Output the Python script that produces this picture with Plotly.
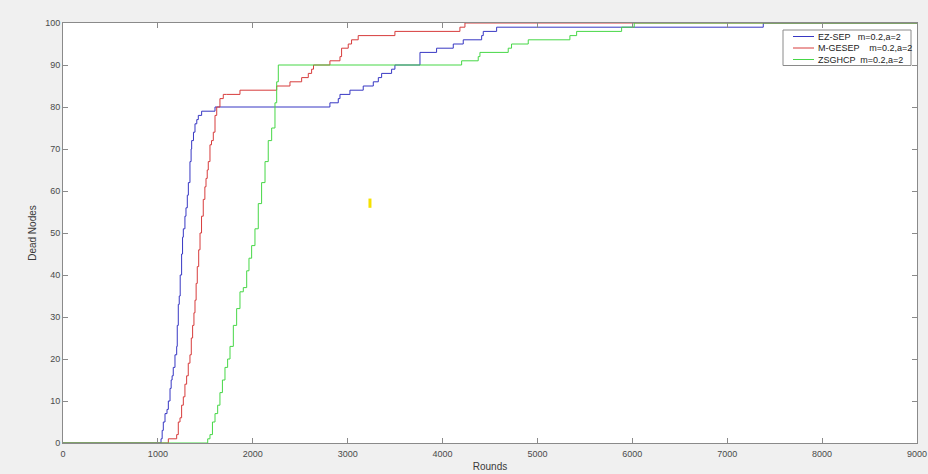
import plotly.graph_objects as go

# ---- data ----
ez_rounds = [0, 1033, 1045, 1057, 1075, 1096, 1110, 1128, 1140, 1150, 1162, 1180, 1198, 1204, 1215,
             1225, 1235, 1250, 1260, 1268, 1285, 1296, 1310, 1321, 1338, 1350, 1356, 1375, 1391,
             1410, 1426, 1461, 1602, 2813, 2901, 2919, 3024, 3164, 3270, 3323, 3358, 3463, 3498,
             3762, 3937, 4113, 4218, 4412, 4429, 4570, 7380, 9000]
ez_dead = [0, 1, 3, 5, 7, 8, 10, 13, 15, 16, 18, 21, 23, 28, 33,
           35, 40, 45, 49, 51, 54, 56, 59, 62, 67, 70, 72, 74, 76,
           77, 78, 79, 80, 81, 82, 83, 84, 85, 86, 87, 88, 89, 90,
           93, 94, 95, 96, 97, 98, 99, 100, 100]

mg_rounds = [0, 1110, 1198, 1215, 1233, 1250, 1268, 1285, 1303, 1320, 1338, 1352, 1366, 1380, 1391,
             1403, 1415, 1430, 1444, 1460, 1478, 1495, 1507, 1520, 1531, 1549, 1565, 1584, 1602,
             1620, 1654, 1689, 1725, 1865, 2252, 2392, 2515, 2585, 2620, 2640, 2813, 2919, 2936,
             3006, 3041, 3111, 3498, 4183, 4236, 9000]
mg_dead = [0, 1, 2, 5, 6, 9, 11, 14, 16, 19, 21, 25, 28, 31, 34,
           38, 42, 46, 50, 54, 58, 61, 63, 65, 67, 71, 72, 74, 78,
           80, 82, 83, 83, 84, 85, 86, 87, 88, 89, 90, 91, 92, 94,
           95, 96, 97, 98, 99, 100, 100]

zs_rounds = [0, 1525, 1549, 1575, 1602, 1630, 1654, 1680, 1707, 1735, 1760, 1795, 1830, 1865, 1900,
             1936, 1960, 1988, 2023, 2058, 2093, 2129, 2163, 2199, 2234, 2252, 2269, 4201, 4376,
             4394, 4692, 4727, 4903, 5342, 5413, 5887, 6020, 9000]
zs_dead = [0, 1, 2, 5, 7, 9, 12, 15, 18, 20, 23, 28, 32, 36, 37,
           41, 44, 47, 51, 57, 62, 67, 72, 75, 81, 86, 90, 91, 92,
           93, 94, 95, 96, 97, 98, 99, 100, 100]

series_names = ["EZ-SEP   m=0.2,a=2", "M-GESEP    m=0.2,a=2", "ZSGHCP  m=0.2,a=2"]
series_colors = ["rgb(55,55,195)", "rgb(215,60,60)", "rgb(70,215,70)"]

mark_x = [3235, 3235]
mark_y = [56, 58.2]

x_ticks = [0, 1000, 2000, 3000, 4000, 5000, 6000, 7000, 8000, 9000]
y_ticks = [0, 10, 20, 30, 40, 50, 60, 70, 80, 90, 100]

fig = go.Figure()
for xs, ys, name, col in zip([ez_rounds, mg_rounds, zs_rounds], [ez_dead, mg_dead, zs_dead],
                             series_names, series_colors):
    fig.add_trace(go.Scatter(x=xs, y=ys, mode="lines", name=name, showlegend=False,
                             line=dict(color=col, width=1, shape="hv")))

fig.add_trace(go.Scatter(x=mark_x, y=mark_y, mode="lines", showlegend=False, hoverinfo="skip",
                         line=dict(color="rgb(245,225,0)", width=3)))

# MATLAB-style compact legend box (paper coordinates)
W, H = 928, 474
ml, mr, mt, mb = 63, 11, 23, 31
pw, ph = W - ml - mr, H - mt - mb


def px2paper(x, y):
    return (x - ml) / pw, 1 - (y - mt) / ph


x0, y0 = px2paper(783, 30)
x1, y1 = px2paper(911, 65.5)
fig.add_shape(type="rect", xref="paper", yref="paper", x0=x0, y0=y1, x1=x1, y1=y0,
              line=dict(color="#8a8a8a", width=1), fillcolor="white", layer="above")
row_y = [36.5, 48, 59.5]
for name, col, ry in zip(series_names, series_colors, row_y):
    lx0, ly = px2paper(793, ry)
    lx1, _ = px2paper(814, ry)
    fig.add_shape(type="line", xref="paper", yref="paper", x0=lx0, x1=lx1, y0=ly, y1=ly,
                  line=dict(color=col, width=1), layer="above")
    tx, _ = px2paper(816, ry)
    fig.add_annotation(xref="paper", yref="paper", x=tx, y=ly, xanchor="left", yanchor="middle",
                       text=name, showarrow=False,
                       font=dict(family="Liberation Sans", size=9, color="#222"))

axis_common = dict(showgrid=False, zeroline=False, showline=True, linecolor="#8a8a8a", linewidth=1,
                   mirror="ticks", ticks="inside", ticklen=5, tickcolor="#8a8a8a", automargin=False,
                   tickfont=dict(family="Liberation Sans", size=9, color="#4a4a4a"))

fig.update_layout(
    width=W, height=H,
    paper_bgcolor="#f0f0f0", plot_bgcolor="white",
    margin=dict(l=ml, r=mr, t=mt, b=mb),
    font=dict(family="Liberation Sans", color="#4a4a4a"),
    xaxis=dict(range=[0, 9000], tickvals=x_ticks, ticklabelstandoff=2,
               title=dict(text="Rounds", font=dict(size=10, color="#3a3a3a"), standoff=5),
               **axis_common),
    yaxis=dict(range=[0, 100], tickvals=y_ticks,
               title=dict(text="Dead Nodes", font=dict(size=10, color="#3a3a3a"), standoff=6),
               **axis_common),
    showlegend=False,
)

fig.write_html("out.html", config={"displayModeBar": False},
               post_script="document.body.style.margin='0';"
                           "document.body.style.background='#f0f0f0';"
                           "document.body.style.overflow='hidden';")
